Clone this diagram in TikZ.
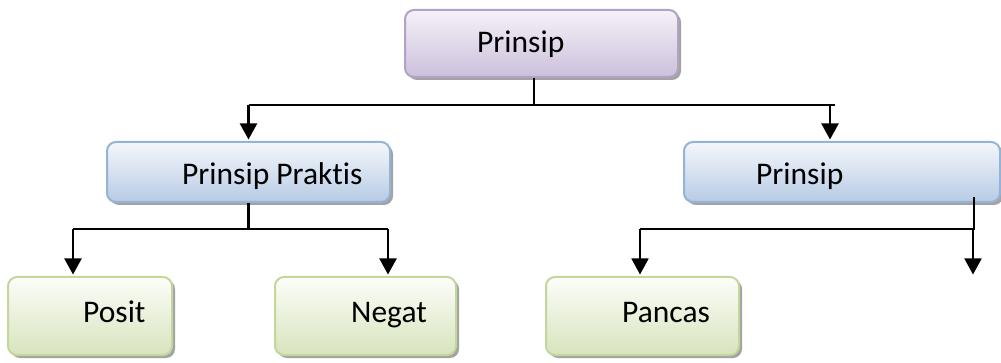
\documentclass[tikz,border=0pt]{standalone}
\usepackage{fontspec}
\setmainfont[Ligatures=NoCommon]{Carlito}
\usetikzlibrary{arrows.meta,shadows}
\definecolor{pTop}{HTML}{F5F1F8}
\definecolor{pBot}{HTML}{CCC0DB}
\definecolor{pLine}{HTML}{B3A2C7}
\definecolor{bTop}{HTML}{F4F7FB}
\definecolor{bBot}{HTML}{B7CBE4}
\definecolor{bLine}{HTML}{95B3D7}
\definecolor{gTop}{HTML}{FCFDF9}
\definecolor{gBot}{HTML}{D7E4BD}
\definecolor{gLine}{HTML}{C3D69B}
\tikzset{
  boxbase/.style={rectangle, rounded corners=9pt, line width=2pt, inner sep=0pt,
    drop shadow={shadow xshift=3pt, shadow yshift=-3pt, fill=black!40, opacity=0.9}},
  pbox/.style={boxbase, draw=pLine, top color=pTop, bottom color=pBot},
  bbox/.style={boxbase, draw=bLine, top color=bTop, bottom color=bBot},
  gbox/.style={boxbase, draw=gLine, top color=gTop, bottom color=gBot},
  lbl/.style={anchor=base west, inner sep=0pt, font=\fontsize{31.5}{37}\selectfont},
  conn/.style={line width=2.2pt},
  arr/.style={line width=2.2pt, -{Triangle[width=17pt,length=16pt]}, shorten >=1.5pt}
}
\begin{document}
\begin{tikzpicture}[x=1pt,y=-1pt]
\useasboundingbox (0,0) rectangle (1001,363);
% boxes
\node[pbox, minimum width=273pt, minimum height=67pt] (top) at (541.5,43.5) {};
\node[bbox, minimum width=283pt, minimum height=60pt] (pp) at (248.5,172) {};
\node[bbox, minimum width=316pt, minimum height=60pt] (pr) at (842,172) {};
\node[gbox, minimum width=164pt, minimum height=78pt] (pos) at (90,316) {};
\node[gbox, minimum width=181pt, minimum height=78pt] (neg) at (365.5,316) {};
\node[gbox, minimum width=193pt, minimum height=78pt] (pan) at (642.5,316) {};
% labels
\node[lbl] (ttop) at (477,53) {Prinsip};
\node[lbl] (tpp) at (182,185) {Prinsip Praktis};
\node[lbl] (tpr) at (756,185) {Prinsip};
\node[lbl] (tpos) at (83,322) {Posit};
\node[lbl] (tneg) at (351,322) {Negat};
\node[lbl] (tpan) at (622,322) {Pancas};
% junction coordinates
\coordinate (j1) at (534,105);
\coordinate (j1l) at (248.5,105);
\coordinate (j1r) at (830,105);
\coordinate (j1e) at (835,105);
\coordinate (j2) at (248.5,229);
\coordinate (j2l) at (73,229);
\coordinate (j2r) at (388,229);
\coordinate (j3s) at (974,197);
\coordinate (j3) at (974,229);
\coordinate (j3l) at (640,229);
\coordinate (j3r) at (973,229);
\coordinate (free) at (973,276);
% connectors level 1
\draw[conn] (top.south -| j1) -- (j1);
\draw[conn] (j1l) -- (j1e);
\draw[arr] (j1l) -- (pp.north);
\draw[arr] (j1r) -- (pr.north -| j1r);
% connectors level 2 left
\draw[conn] (pp.south) -- (j2);
\draw[conn] (j2l) -- (j2r);
\draw[arr] (j2l) -- (pos.north -| j2l);
\draw[arr] (j2r) -- (neg.north -| j2r);
% connectors level 2 right
\draw[line width=1.6pt] (j3s) -- (j3) -- (j3l);
\draw[arr, line width=1.8pt] (j3l) -- (pan.north -| j3l);
\draw[arr, line width=1.8pt] (j3r) -- (free);
\end{tikzpicture}
\end{document}
